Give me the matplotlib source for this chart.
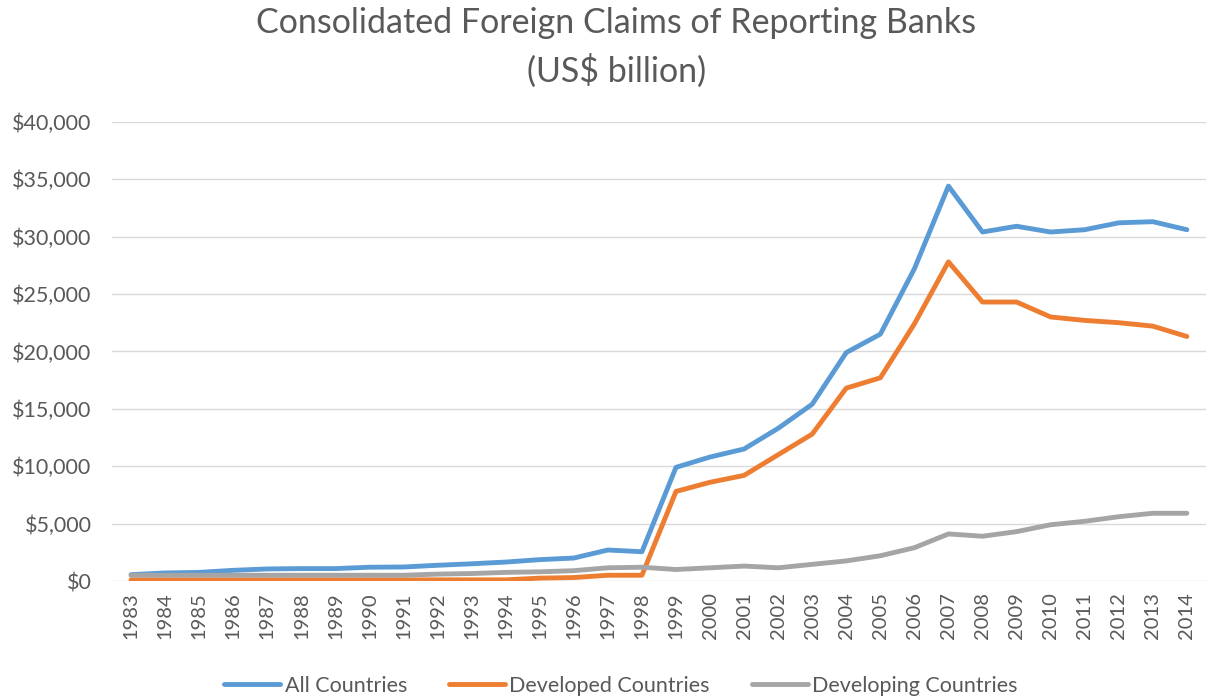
import matplotlib.pyplot as plt
from matplotlib.ticker import FuncFormatter

years = list(range(1983, 2015))

all_countries = [550, 700, 750, 930, 1050, 1080, 1080, 1200, 1220, 1370,
                 1500, 1650, 1860, 2000, 2700, 2550, 9900, 10800, 11500, 13300,
                 15400, 19900, 21500, 27200, 34400, 30400, 30900, 30400, 30600, 31200,
                 31300, 30600]
developed = [100, 100, 100, 100, 100, 100, 100, 100, 100, 100,
             100, 100, 250, 300, 500, 500, 7800, 8600, 9200, 11000,
             12800, 16800, 17700, 22400, 27800, 24300, 24300, 23000, 22700, 22500,
             22200, 21300]
developing = [500, 500, 500, 500, 500, 500, 500, 500, 500, 600,
              650, 750, 800, 900, 1150, 1200, 1000, 1150, 1300, 1150,
              1450, 1750, 2200, 2900, 4100, 3900, 4300, 4900, 5200, 5600,
              5900, 5900]

series = [("All Countries", all_countries, "#5B9BD5"),
          ("Developed Countries", developed, "#ED7D31"),
          ("Developing Countries", developing, "#A5A5A5")]

plt.rcParams['font.family'] = ['Lato', 'DejaVu Sans']
txt = "#595959"

fig = plt.figure(figsize=(12.08, 7.0), dpi=100)
ax = fig.add_axes([0.093, 0.17, 0.905, 0.656])

x = list(range(len(years)))
for name, vals, col in series:
    ax.plot(x, vals, color=col, lw=3.5, label=name, solid_capstyle="round")

ax.set_ylim(0, 40000)
ax.set_xlim(-0.55, len(years) - 0.45)
ax.set_yticks(range(0, 40001, 5000))
ax.yaxis.set_major_formatter(FuncFormatter(lambda v, p: "${:,.0f}".format(v)))
ax.set_xticks(x)
ax.set_xticklabels([str(y) for y in years], rotation=90)
ax.tick_params(length=0, colors=txt)
ax.tick_params(axis="y", pad=15, labelsize=15.5)
ax.tick_params(axis="x", pad=8, labelsize=14.5)
ax.grid(axis="y", color="#D9D9D9", lw=1)
ax.set_axisbelow(True)
for s in ax.spines.values():
    s.set_visible(False)

# two-line title, centred a little right of the figure middle like the original
fig.text(0.51, 0.967, "Consolidated Foreign Claims of Reporting Banks",
         ha="center", va="center", fontsize=24.5, color=txt)
fig.text(0.51, 0.899, "(US$ billion)", ha="center", va="center", fontsize=24.5, color=txt)

fig.legend(loc="center", bbox_to_anchor=(0.514, 0.02), ncol=3, frameon=False,
           fontsize=15.5, labelcolor=txt, handlelength=2.6, handletextpad=0.2,
           columnspacing=1.95)

fig.savefig("out.png", dpi=100)
